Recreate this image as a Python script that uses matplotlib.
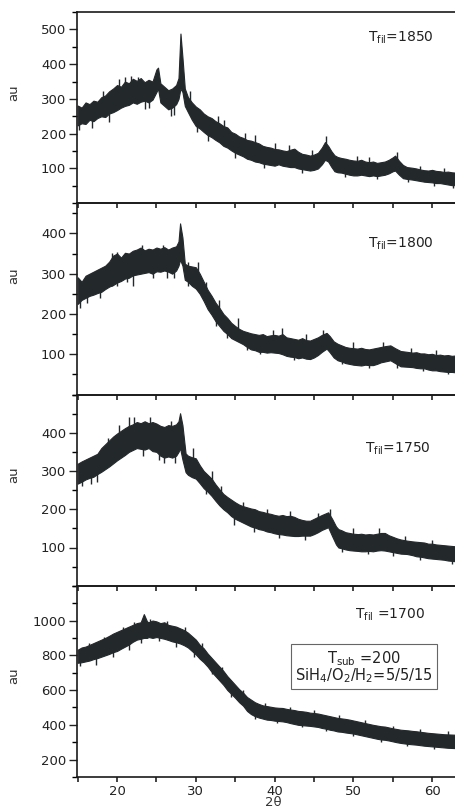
import matplotlib
matplotlib.use("Agg")
import matplotlib.pyplot as plt
from matplotlib.ticker import MultipleLocator

plt.rcParams['font.family'] = ['DejaVu Sans']
plt.rcParams['mathtext.fontset'] = 'dejavusans'

# ---------------- data (lower/upper edge of the noisy trace) ----------------
x_1850 = [15.0, 15.5, 16.0, 16.5, 17.0, 17.5, 18.0, 18.5, 19.0, 19.5, 20.0, 20.5, 21.0, 21.5, 22.0, 22.5,
          23.0, 23.5, 24.0, 24.5, 25.0, 25.2, 25.5, 26.0, 26.5, 27.0, 27.5, 27.8, 28.05, 28.3, 28.6, 29.0,
          29.5, 30.0, 30.5, 31.0, 31.5, 32.0, 32.5, 33.0, 33.5, 34.0, 34.5, 35.0, 35.5, 36.0, 36.5, 37.0,
          37.5, 38.0, 38.5, 39.0, 39.5, 40.0, 40.5, 41.0, 41.5, 42.0, 42.5, 43.0, 43.5, 44.0, 44.5, 45.0,
          45.5, 46.0, 46.4, 46.8, 47.2, 47.6, 48.0, 48.5, 49.0, 49.5, 50.0, 50.5, 51.0, 51.5, 52.0, 52.5,
          53.0, 53.5, 54.0, 54.5, 55.0, 55.3, 55.8, 56.3, 56.8, 57.5, 58.0, 58.5, 59.0, 59.5, 60.0, 60.5,
          61.0, 61.5, 62.0, 62.5, 63.0, 63.5, 64.0, 64.5, 65.0]
hi_1850 = [281, 275, 290, 285, 295, 292, 305, 310, 322, 330, 340, 335, 350, 345, 358, 352,
           360, 348, 355, 350, 385, 390, 345, 335, 325, 330, 340, 360, 488, 420, 330, 305,
           290, 278, 270, 258, 250, 245, 236, 230, 222, 218, 205, 200, 192, 188, 182, 180,
           176, 172, 165, 162, 160, 156, 155, 152, 150, 154, 157, 148, 142, 140, 137, 140,
           145, 160, 176, 165, 150, 138, 133, 130, 128, 125, 123, 122, 125, 120, 118, 120,
           116, 118, 120, 125, 132, 137, 122, 110, 104, 102, 100, 97, 95, 94, 96, 93,
           92, 90, 91, 89, 88, 90, 87, 88, 86]
lo_1850 = [224, 230, 228, 240, 236, 245, 250, 248, 258, 262, 268, 275, 280, 283, 290, 286,
           292, 295, 290, 298, 320, 330, 290, 280, 270, 275, 285, 300, 330, 320, 280, 262,
           240, 222, 215, 205, 196, 190, 182, 175, 165, 160, 152, 145, 140, 135, 128, 125,
           120, 118, 114, 112, 110, 108, 112, 108, 106, 104, 104, 100, 98, 96, 94, 96,
           100, 112, 125, 120, 105, 92, 89, 88, 85, 82, 80, 80, 82, 80, 78, 80,
           78, 80, 82, 86, 92, 94, 82, 72, 70, 68, 66, 64, 62, 61, 60, 58,
           58, 56, 54, 52, 52, 50, 52, 50, 50]
spk_x_1850 = [15.2, 16.8, 18.2, 19.0, 20.2, 21.0, 21.8, 22.6, 23.5, 24.0, 26.8, 27.2, 29.2, 30.2, 31.5, 32.8,
              33.6, 35.0, 36.2, 37.5, 38.6, 40.0, 41.8, 43.5, 44.8, 46.5, 49.0, 50.5, 52.0, 53.0, 55.5, 57.0,
              58.5, 60.2, 61.5, 62.7]
spk_a_1850 = [210, 215, 280, 235, 300, 310, 310, 320, 270, 275, 250, 255, 270, 205, 180, 200,
              200, 130, 160, 140, 100, 130, 125, 88, 115, 150, 75, 100, 100, 70, 110, 60,
              80, 50, 70, 45]
spk_b_1850 = [260, 260, 322, 280, 358, 362, 366, 364, 320, 320, 300, 300, 322, 250, 220, 252,
              240, 170, 202, 196, 140, 172, 168, 120, 152, 192, 105, 136, 133, 100, 146, 85,
              108, 75, 100, 70]

x_1800 = [15.0, 15.5, 16.0, 16.5, 17.0, 17.5, 18.0, 18.5, 19.0, 19.5, 20.0, 20.5, 21.0, 21.5, 22.0, 22.5,
          23.0, 23.5, 24.0, 24.5, 25.0, 25.5, 26.0, 26.5, 27.0, 27.5, 27.8, 28.0, 28.3, 28.6, 29.0, 29.5,
          30.0, 30.5, 31.0, 31.5, 32.0, 32.5, 33.0, 33.5, 34.0, 34.5, 35.0, 35.5, 36.0, 36.5, 37.0, 37.5,
          38.0, 38.5, 39.0, 39.5, 40.0, 40.5, 41.0, 41.5, 42.0, 42.5, 43.0, 43.5, 44.0, 44.5, 45.0, 45.5,
          46.0, 46.6, 47.0, 47.5, 48.0, 48.5, 49.0, 49.5, 50.0, 50.5, 51.0, 51.5, 52.0, 52.5, 53.0, 53.5,
          54.0, 54.7, 55.3, 56.0, 56.8, 57.5, 58.0, 58.5, 59.0, 59.5, 60.0, 60.5, 61.0, 61.5, 62.0, 62.5,
          63.0, 63.5, 64.0, 65.0]
hi_1800 = [291, 280, 295, 300, 305, 310, 315, 320, 330, 345, 350, 340, 352, 350, 357, 360,
           365, 358, 362, 360, 365, 362, 366, 360, 365, 368, 380, 425, 390, 325, 320, 318,
           316, 300, 280, 260, 245, 228, 215, 200, 190, 178, 170, 163, 158, 155, 152, 150,
           148, 150, 145, 147, 148, 146, 150, 142, 140, 138, 136, 140, 135, 134, 138, 142,
           148, 153, 145, 132, 126, 122, 118, 116, 115, 114, 116, 113, 112, 114, 116, 118,
           120, 122, 115, 108, 106, 104, 105, 102, 102, 100, 101, 98, 99, 97, 98, 96,
           97, 95, 96, 95]
lo_1800 = [225, 235, 240, 245, 248, 252, 255, 262, 268, 272, 278, 282, 288, 290, 296, 298,
           300, 302, 304, 300, 306, 305, 308, 305, 300, 308, 320, 335, 320, 285, 280, 270,
           263, 250, 232, 212, 198, 182, 170, 158, 150, 140, 135, 130, 125, 118, 112, 110,
           106, 106, 104, 105, 104, 103, 100, 96, 94, 93, 90, 92, 89, 88, 92, 98,
           106, 114, 105, 92, 85, 82, 78, 76, 74, 73, 72, 74, 73, 73, 76, 80,
           82, 85, 78, 70, 69, 68, 66, 65, 65, 62, 60, 60, 58, 57, 56, 56,
           55, 54, 55, 54]
spk_x_1800 = [15.3, 16.2, 17.8, 19.3, 20.0, 21.2, 22.0, 23.2, 24.5, 25.8, 26.3, 27.2, 29.0, 30.3, 31.3, 32.5,
              33.0, 34.0, 35.3, 36.5, 38.2, 39.8, 41.0, 42.5, 44.0, 46.2, 48.5, 50.0, 52.0, 53.8, 55.5, 57.3,
              58.8, 60.5, 62.0, 63.2]
spk_a_1800 = [215, 228, 240, 270, 270, 280, 270, 320, 290, 320, 290, 290, 270, 295, 240, 170,
              200, 140, 160, 110, 100, 130, 130, 85, 120, 130, 75, 100, 65, 100, 65, 85,
              58, 85, 52, 80]
spk_b_1800 = [260, 270, 285, 352, 355, 330, 320, 372, 330, 372, 340, 340, 330, 330, 280, 210,
              235, 180, 190, 150, 130, 160, 165, 120, 150, 160, 100, 130, 95, 130, 95, 115,
              80, 110, 75, 105]

x_1750 = [15.0, 15.5, 16.0, 16.5, 17.0, 17.5, 18.0, 18.5, 19.0, 19.5, 20.0, 20.5, 21.0, 21.5, 22.0, 22.5,
          23.0, 23.5, 24.0, 24.5, 25.0, 25.5, 26.0, 26.5, 27.0, 27.5, 27.8, 28.0, 28.3, 28.7, 29.0, 29.5,
          30.0, 30.5, 31.0, 31.5, 32.0, 32.5, 33.0, 33.5, 34.0, 34.5, 35.0, 35.5, 36.0, 36.5, 37.0, 37.5,
          38.0, 38.5, 39.0, 39.5, 40.0, 40.5, 41.0, 41.5, 42.0, 42.5, 43.0, 43.5, 44.0, 44.5, 45.0, 45.5,
          46.0, 46.8, 47.3, 47.8, 48.1, 48.5, 49.0, 49.5, 50.0, 50.6, 51.0, 51.5, 52.0, 52.5, 53.0, 53.5,
          54.0, 54.5, 55.0, 55.5, 56.0, 56.8, 57.5, 58.0, 58.5, 59.0, 59.5, 60.0, 60.5, 61.0, 61.5, 62.0,
          62.5, 63.0, 64.0, 65.0]
hi_1750 = [319, 325, 330, 335, 340, 345, 360, 370, 380, 390, 398, 405, 412, 418, 422, 428,
           425, 430, 425, 428, 424, 418, 415, 420, 418, 422, 430, 451, 420, 346, 340, 336,
           333, 315, 300, 290, 280, 265, 252, 240, 232, 225, 218, 212, 208, 205, 202, 200,
           195, 193, 190, 188, 185, 183, 185, 182, 183, 180, 175, 172, 170, 170, 175, 180,
           185, 192, 175, 155, 148, 145, 140, 138, 136, 135, 136, 134, 135, 134, 136, 138,
           138, 132, 128, 124, 121, 118, 116, 115, 114, 113, 110, 110, 108, 107, 106, 105,
           104, 103, 102, 101]
lo_1750 = [267, 272, 278, 282, 285, 292, 298, 305, 312, 320, 328, 335, 342, 350, 355, 360,
           358, 356, 360, 352, 350, 340, 335, 338, 335, 340, 350, 360, 330, 297, 290, 284,
           280, 268, 255, 246, 235, 222, 210, 200, 192, 182, 175, 170, 165, 160, 155, 152,
           148, 146, 142, 140, 137, 135, 134, 132, 131, 130, 130, 131, 131, 131, 135, 140,
           146, 153, 130, 108, 100, 98, 95, 93, 92, 91, 90, 90, 91, 90, 92, 93,
           92, 90, 88, 86, 84, 83, 80, 77, 76, 74, 72, 71, 70, 69, 68, 66,
           65, 64, 63, 62]
spk_x_1750 = [15.5, 16.7, 17.5, 18.8, 20.3, 21.5, 22.2, 23.3, 24.2, 25.3, 26.0, 26.8, 27.4, 29.6, 30.5, 31.3,
              32.0, 33.2, 34.8, 36.0, 37.4, 39.0, 40.5, 42.0, 43.8, 45.5, 47.0, 48.6, 50.0, 51.8, 53.2, 55.0,
              56.5, 58.5, 60.0, 62.5]
spk_a_1750 = [260, 265, 270, 320, 370, 390, 390, 340, 390, 330, 320, 380, 320, 330, 270, 240,
              250, 220, 160, 185, 140, 165, 125, 160, 120, 155, 160, 88, 115, 82, 120, 78,
              100, 68, 95, 58]
spk_b_1750 = [300, 320, 320, 385, 420, 440, 440, 390, 440, 380, 360, 430, 360, 360, 310, 275,
              300, 260, 200, 220, 175, 200, 160, 195, 150, 190, 200, 120, 150, 110, 150, 105,
              130, 95, 120, 85]

x_1700 = [15.0, 15.5, 16.0, 16.5, 17.0, 17.5, 18.0, 18.5, 19.0, 19.5, 20.0, 20.5, 21.0, 21.5, 22.0, 22.5,
          23.0, 23.4, 23.8, 24.0, 24.5, 25.0, 25.5, 26.0, 26.5, 27.0, 27.5, 28.0, 28.5, 29.0, 29.5, 30.0,
          30.5, 31.0, 31.5, 32.0, 32.5, 33.0, 33.5, 34.0, 34.5, 35.0, 35.5, 36.0, 36.5, 37.0, 37.5, 38.0,
          38.5, 39.0, 39.5, 40.0, 40.5, 41.0, 41.5, 42.0, 42.5, 43.0, 43.5, 44.0, 44.5, 45.0, 45.5, 46.0,
          46.5, 47.0, 47.5, 48.0, 48.5, 49.0, 49.5, 50.0, 50.5, 51.0, 51.5, 52.0, 52.5, 53.0, 53.5, 54.0,
          54.5, 55.0, 55.5, 56.0, 56.5, 57.0, 57.5, 58.0, 58.5, 59.0, 59.5, 60.0, 60.5, 61.0, 61.5, 62.0,
          62.5, 63.0, 64.0, 65.0]
hi_1700 = [832, 845, 850, 860, 870, 880, 890, 900, 912, 925, 935, 945, 955, 965, 975, 985,
           990, 1037, 995, 990, 1000, 995, 985, 990, 975, 970, 965, 955, 945, 930, 910, 890,
           860, 840, 810, 785, 760, 735, 710, 680, 655, 630, 605, 585, 560, 545, 530, 520,
           512, 508, 504, 500, 498, 497, 492, 488, 485, 480, 478, 475, 470, 468, 465, 460,
           455, 450, 445, 440, 437, 434, 430, 425, 420, 415, 410, 405, 400, 396, 392, 390,
           385, 380, 376, 372, 370, 368, 365, 363, 360, 357, 354, 352, 350, 348, 346, 345,
           344, 343, 342, 340]
lo_1700 = [757, 760, 765, 770, 778, 784, 792, 800, 808, 818, 825, 838, 850, 862, 878, 890,
           895, 900, 900, 905, 900, 905, 900, 895, 888, 880, 875, 868, 858, 845, 825, 805,
           780, 760, 735, 705, 680, 655, 630, 600, 578, 555, 530, 510, 480, 462, 450, 442,
           436, 430, 428, 424, 422, 420, 416, 410, 405, 400, 398, 396, 394, 391, 388, 382,
           378, 372, 368, 362, 360, 356, 353, 350, 345, 340, 335, 330, 325, 320, 316, 314,
           310, 305, 300, 296, 293, 290, 288, 286, 283, 280, 278, 276, 274, 272, 270, 268,
           267, 266, 265, 264]
spk_x_1700 = [15.3, 16.5, 17.3, 18.3, 19.5, 20.7, 21.5, 22.2, 23.0, 24.2, 25.3, 26.3, 27.5, 28.6, 29.8, 30.8,
              32.0, 33.3, 34.5, 36.0, 37.5, 38.8, 40.3, 42.0, 43.5, 45.0, 46.5, 48.2, 50.0, 51.5, 53.5, 55.0,
              56.8, 58.5, 60.3, 62.0, 63.5]
spk_a_1700 = [740, 800, 745, 860, 790, 900, 830, 930, 870, 960, 880, 940, 850, 910, 790, 820,
              690, 690, 560, 560, 435, 480, 410, 460, 385, 440, 365, 420, 335, 390, 300, 360,
              280, 340, 262, 330, 255]
spk_b_1700 = [800, 870, 800, 905, 840, 960, 880, 990, 920, 1010, 925, 1000, 900, 960, 850, 870,
              740, 730, 610, 600, 480, 525, 445, 500, 420, 485, 400, 455, 370, 425, 340, 395,
              310, 375, 295, 365, 290]

panel_labels = [r'T$_{\rm fil}$=1850', r'T$_{\rm fil}$=1800', r'T$_{\rm fil}$=1750', r'T$_{\rm fil}$ =1700']
box_text = 'T$_{\\rm sub}$ =200\nSiH$_4$/O$_2$/H$_2$=5/5/15'
y_limits = [(0, 550), (0, 475), (0, 500), (100, 1200)]
y_major = [100, 100, 100, 200]
x_ticks = [20, 30, 40, 50, 60]

panels = [(x_1850, lo_1850, hi_1850, spk_x_1850, spk_a_1850, spk_b_1850),
          (x_1800, lo_1800, hi_1800, spk_x_1800, spk_a_1800, spk_b_1800),
          (x_1750, lo_1750, hi_1750, spk_x_1750, spk_a_1750, spk_b_1750),
          (x_1700, lo_1700, hi_1700, spk_x_1700, spk_a_1700, spk_b_1700)]

# ---------------- figure ----------------
W, H = 455, 811
fig = plt.figure(figsize=(W / 100, H / 100), dpi=100)
left_px, right_px = 76.5, 471.5
top_px, bot_px = 12, 777
ph = (bot_px - top_px) / 4
line_col = '#23282b'
label_pos = [(0.738, 0.864), (0.738, 0.79), (0.73, 0.717), (0.705, 0.848)]
ylabel_y = [0.58, 0.62, 0.58, 0.53]

axes = []
for i in range(4):
    y0 = 1 - (top_px + (i + 1) * ph) / H
    ax = fig.add_axes([left_px / W, y0, (right_px - left_px) / W, ph / H])
    axes.append(ax)
    xs, lo, hi, sx, sa, sb = panels[i]
    ax.fill_between(xs, lo, hi, color=line_col, lw=0.8, edgecolor=line_col)
    ax.vlines(sx, sa, sb, color=line_col, lw=1.0)
    ax.set_xlim(14.85, 65)
    ax.set_ylim(*y_limits[i])
    ax.xaxis.set_major_locator(MultipleLocator(10))
    ax.xaxis.set_minor_locator(MultipleLocator(5))
    ax.yaxis.set_major_locator(MultipleLocator(y_major[i]))
    ax.yaxis.set_minor_locator(MultipleLocator(y_major[i] / 2))
    ax.tick_params(axis='y', which='major', direction='out', length=6, width=1.0, labelsize=9.5, pad=1.5,
                   colors='#222222')
    ax.tick_params(axis='y', which='minor', direction='out', length=3.5, width=1.0)
    ax.tick_params(axis='x', which='both', direction='out', length=3.5, width=1.2, labelsize=9.5, pad=2,
                   colors='#222222')
    if i < 3:
        ax.tick_params(axis='x', labelbottom=False)
    else:
        ax.set_xticks(x_ticks)
    yl = y_limits[i]
    ax.set_yticks([t for t in range(0, yl[1] + 1, y_major[i]) if yl[0] < t < yl[1]])
    ax.spines['right'].set_visible(False)
    for s in ['left', 'top', 'bottom']:
        ax.spines[s].set_linewidth(1.2)
        ax.spines[s].set_color('#1a1a1a')
    ax.set_ylabel('au', fontsize=9.5, color='#333333')
    ax.yaxis.set_label_coords(-0.143, ylabel_y[i])
    ax.text(label_pos[i][0], label_pos[i][1], panel_labels[i], transform=ax.transAxes,
            ha='left', va='center', fontsize=10, color='#222222')
    ax.patch.set_alpha(0)

axes[3].text(0.728, 0.576, box_text, transform=axes[3].transAxes, ha='center', va='center',
             fontsize=10.5, color='#222222', multialignment='center', linespacing=0.9,
             bbox=dict(boxstyle='square,pad=0.3', fc='white', ec='#666666', lw=0.8))

fig.text(273 / W, 1 - 803 / H, '2θ', ha='center', va='center', fontsize=9.5, color='#333333')

fig.savefig('out.png', dpi=100)
